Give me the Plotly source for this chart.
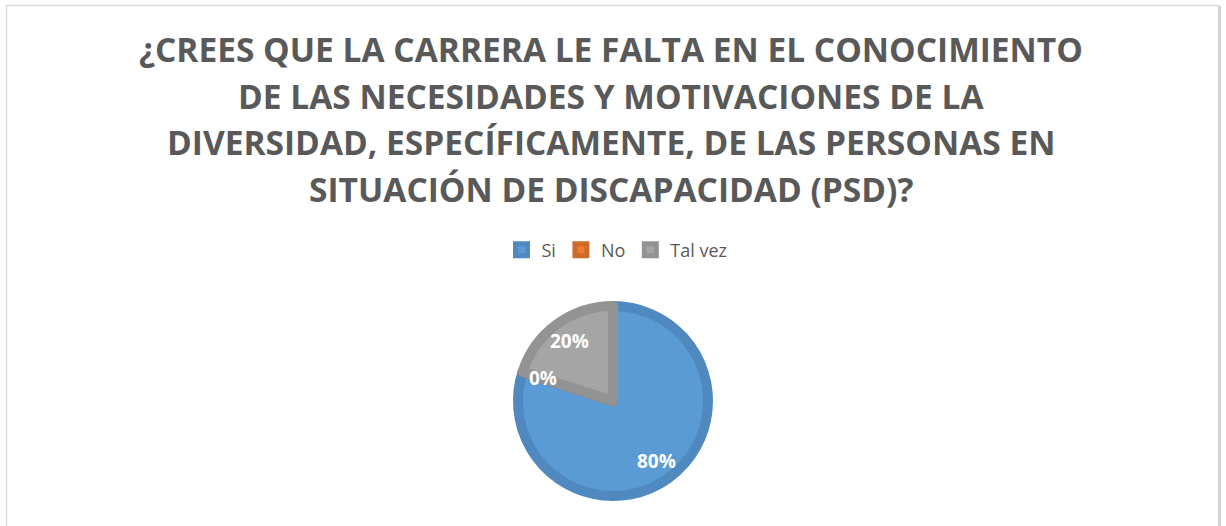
import math
import plotly.graph_objects as go

labels = ["Si", "No", "Tal vez"]
values = [80, 0, 20]
fill_colors = ["#5b9bd5", "#ed7d31", "#a5a5a5"]
edge_colors = ["#4f89c0", "#d06a28", "#939393"]
title_lines = [
    "¿CREES QUE LA CARRERA LE FALTA EN EL CONOCIMIENTO",
    "DE LAS NECESIDADES Y MOTIVACIONES DE LA",
    "DIVERSIDAD, ESPECÍFICAMENTE, DE LAS PERSONAS EN",
    "SITUACIÓN DE DISCAPACIDAD (PSD)?",
]

W, H = 1226, 526
cx, cy, r = 613, 401, 95

fig = go.Figure()
fig.add_trace(go.Pie(
    labels=labels,
    values=values,
    sort=False,
    direction="clockwise",
    rotation=0,
    marker=dict(colors=fill_colors, line=dict(color=edge_colors, width=10)),
    textinfo="none",
    domain=dict(x=[(cx - r) / W, (cx + r) / W], y=[1 - (cy + r) / H, 1 - (cy - r) / H]),
    showlegend=True,
    hoverinfo="label+percent",
))

annotations = []
for i, line in enumerate(title_lines):
    annotations.append(dict(
        text=line, xref="paper", yref="paper", x=0.5 - 2 / W, y=1 - (49 + 46.7 * i) / H,
        xanchor="center", yanchor="middle", showarrow=False,
        font=dict(family="Open Sans", size=33.5, color="#595959", weight="bold"),
    ))

# data labels placed along each slice bisector (as the original chart does)
total = sum(values)
cum = 0.0
R_out = r + 5
for lab, v in zip(labels, values):
    mid = (cum + v / 2) / total * 2 * math.pi
    cum += v
    px = cx + 0.74 * R_out * math.sin(mid)
    py = cy - 0.74 * R_out * math.cos(mid)
    annotations.append(dict(
        text=f"{round(v / total * 100)}%", xref="paper", yref="paper",
        x=px / W, y=1 - py / H, xanchor="center", yanchor="middle", showarrow=False,
        font=dict(family="Open Sans", size=19, color="white", weight="bold"),
    ))

fig.update_layout(
    width=W, height=H,
    margin=dict(l=0, r=0, t=0, b=0),
    paper_bgcolor="white",
    plot_bgcolor="white",
    annotations=annotations,
    legend=dict(
        orientation="h", x=0.5 + 4 / W, xanchor="center", y=1 - 250 / H, yanchor="middle",
        font=dict(family="Open Sans", size=18, color="#595959"),
        itemwidth=30, tracegroupgap=0, itemclick=False,
    ),
    shapes=[
        dict(type="rect", xref="paper", yref="paper",
             x0=6.5 / W, x1=1218.5 / W, y0=-0.05, y1=1 - 5.5 / H,
             line=dict(color="#d9d9d9", width=1.5), layer="below"),
        dict(type="line", xref="paper", yref="paper",
             x0=1220 / W, x1=1220 / W, y0=-0.05, y1=1 - 6 / H,
             line=dict(color="#d0d0d0", width=2), layer="below"),
    ],
)

fig.write_html("out.html", config={"displayModeBar": False},
               post_script="document.body.style.margin='0';")
